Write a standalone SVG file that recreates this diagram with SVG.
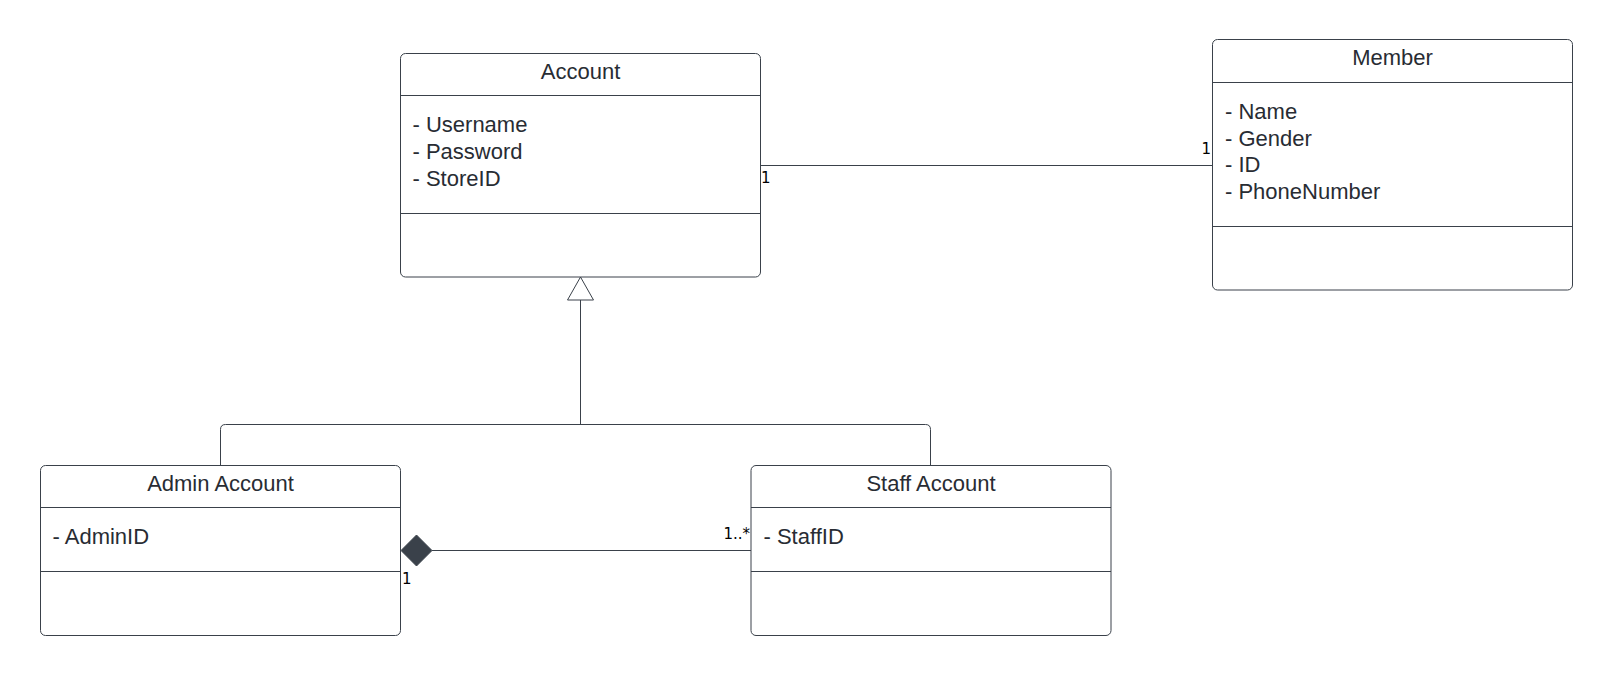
<svg xmlns="http://www.w3.org/2000/svg" width="1612" height="676" viewBox="0 0 1612 676">
<style>
.box{fill:#ffffff;stroke:#3a414a;stroke-width:1}
.div{stroke:#3a414a;stroke-width:1}
.title{font-family:"Liberation Sans",Arial,sans-serif;font-size:22px;fill:#282c33;text-anchor:middle}
.attr{font-family:"Liberation Sans",Arial,sans-serif;font-size:22px;fill:#282c33}
.line{fill:none;stroke:#3a414a;stroke-width:1}
.mult{font-family:"DejaVu Sans",sans-serif;font-size:15px;fill:#000000}
</style>
<rect width="1612" height="676" fill="#ffffff"/>
<g id="connectors">
  <line class="line" x1="760.5" y1="165.5" x2="1212.5" y2="165.5"/>
  <text class="mult" x="761" y="183">1</text>
  <text class="mult" x="1211" y="154" text-anchor="end">1</text>
  <line class="line" x1="432" y1="550.5" x2="751" y2="550.5"/>
  <polygon points="401,550.5 416.5,535 432,550.5 416.5,566" fill="#3a414a" stroke="#3a414a" stroke-width="1"/>
  <text class="mult" x="402" y="584">1</text>
  <text class="mult" x="750" y="539" text-anchor="end">1..*</text>
  <line class="line" x1="580.5" y1="300" x2="580.5" y2="424.5"/>
  <path class="line" d="M220.5 465 V429.5 Q220.5 424.5 225.5 424.5 H925.5 Q930.5 424.5 930.5 429.5 V465"/>
  <polygon points="580.5,277 567.5,300 593.5,300" fill="#ffffff" stroke="#3a414a" stroke-width="1"/>
</g>
<g id="account">
  <rect class="box" x="400.5" y="53.5" width="360" height="223.5" rx="5"/>
  <line class="div" x1="400.5" y1="95.5" x2="760.5" y2="95.5"/>
  <line class="div" x1="400.5" y1="213.5" x2="760.5" y2="213.5"/>
  <text class="title" x="580.5" y="79">Account</text>
  <text class="attr" x="412.5" y="132">- Username</text>
  <text class="attr" x="412.5" y="159">- Password</text>
  <text class="attr" x="412.5" y="185.5">- StoreID</text>
</g>
<g id="member">
  <rect class="box" x="1212.5" y="39.5" width="360" height="250.5" rx="5"/>
  <line class="div" x1="1212.5" y1="82.5" x2="1572.5" y2="82.5"/>
  <line class="div" x1="1212.5" y1="226.5" x2="1572.5" y2="226.5"/>
  <text class="title" x="1392.5" y="65">Member</text>
  <text class="attr" x="1225" y="119">- Name</text>
  <text class="attr" x="1225" y="146">- Gender</text>
  <text class="attr" x="1225" y="172">- ID</text>
  <text class="attr" x="1225" y="199">- PhoneNumber</text>
</g>
<g id="admin-account">
  <rect class="box" x="40.5" y="465.5" width="360" height="170" rx="5"/>
  <line class="div" x1="40.5" y1="507.5" x2="400.5" y2="507.5"/>
  <line class="div" x1="40.5" y1="571.5" x2="400.5" y2="571.5"/>
  <text class="title" x="220.5" y="491">Admin Account</text>
  <text class="attr" x="52.5" y="544">- AdminID</text>
</g>
<g id="staff-account">
  <rect class="box" x="751" y="465.5" width="360" height="170" rx="5"/>
  <line class="div" x1="751" y1="507.5" x2="1111" y2="507.5"/>
  <line class="div" x1="751" y1="571.5" x2="1111" y2="571.5"/>
  <text class="title" x="931" y="491">Staff Account</text>
  <text class="attr" x="763.5" y="544">- StaffID</text>
</g>
</svg>
